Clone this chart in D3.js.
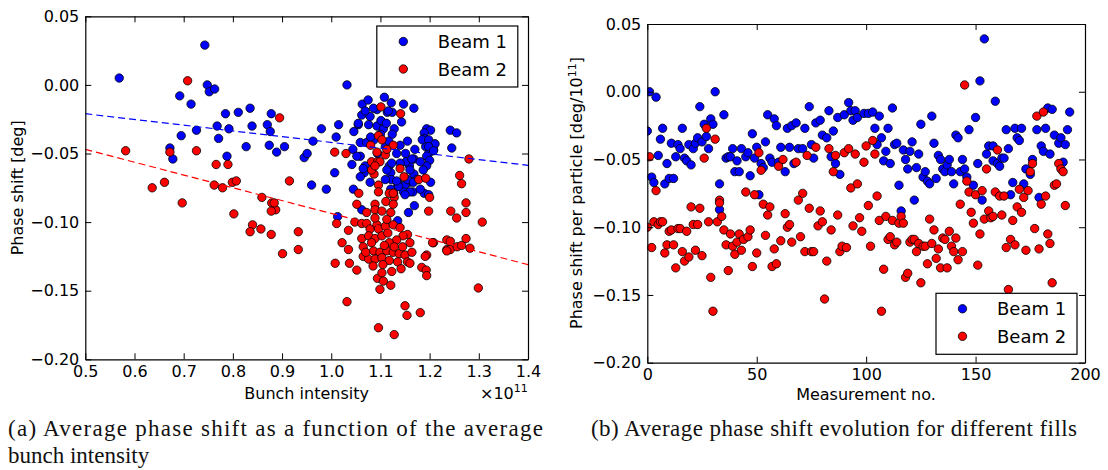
<!DOCTYPE html>
<html>
<head>
<meta charset="utf-8">
<script src="https://cdnjs.cloudflare.com/ajax/libs/d3/7.8.5/d3.min.js"></script>
<style>
body { margin: 0; background: #fff; }
svg text { font-family: "DejaVu Sans", sans-serif; fill: #000; }
.tick text { font-size: 16px; }
.axis-label { font-size: 16px; }
.legend-text { font-size: 18px; }
.caption { font-family: "Liberation Serif", serif; font-size: 23px; fill: #111; }
</style>
</head>
<body>
<svg id="chart" width="1108" height="470"></svg>
<script>

// ---- data ----

var yTicks = [-0.20, -0.15, -0.10, -0.05, 0.00, 0.05];
var intensityTicks = [0.5, 0.6, 0.7, 0.8, 0.9, 1.0, 1.1, 1.2, 1.3, 1.4];
var measurementTicks = [0, 50, 100, 150, 200];
var seriesNames = ["Beam 1", "Beam 2"];

// (a) bunch intensity [1e11], phase shift [deg]
var intensityBeam1 = [
    [0.569,0.005],[0.743,0.029],[0.748,0.000],[0.752,-0.005],[0.763,-0.003],[0.692,-0.008],[0.715,-0.014],
    [0.695,-0.037],[0.726,-0.033],[0.672,-0.046],[0.678,-0.054],[0.768,-0.030],[0.771,-0.039],[0.785,-0.021],
    [0.792,-0.032],[0.811,-0.020],[0.788,-0.052],[0.827,-0.045],[0.835,-0.017],[0.839,-0.030],[0.878,-0.021],
    [0.870,-0.029],[0.876,-0.034],[0.874,-0.044],[0.889,-0.049],[0.905,-0.045],[0.945,-0.053],[0.951,-0.050],
    [0.963,-0.041],[0.980,-0.032],[1.010,-0.038],[1.015,-0.029],[1.007,-0.064],[0.960,-0.073],[0.990,-0.076],
    [1.032,0.000],
    [1.063,-0.014],[1.075,-0.011],[1.108,-0.009],[1.122,-0.013],[1.147,-0.014],[1.168,-0.017],[1.062,-0.022],
    [1.079,-0.023],[1.093,-0.018],[1.114,-0.020],[1.124,-0.020],[1.143,-0.027],[1.046,-0.034],[1.055,-0.029],
    [1.076,-0.029],[1.093,-0.030],[1.106,-0.032],[1.128,-0.032],[1.124,-0.036],[1.069,-0.019],[1.086,-0.017],
    [1.116,-0.019],[1.055,-0.028],[1.101,-0.026],[1.112,-0.028],
    [1.194,-0.032],[1.202,-0.033],[1.189,-0.035],[1.189,-0.039],[1.192,-0.045],[1.210,-0.043],[1.208,-0.047],
    [1.198,-0.050],[1.242,-0.033],[1.255,-0.035],[1.245,-0.046],[1.185,-0.040],[1.198,-0.040],[1.211,-0.043],
    [1.198,-0.045],[1.208,-0.048],
    [1.151,-0.050],[1.168,-0.054],[1.194,-0.052],[1.200,-0.055],[1.194,-0.059],[1.187,-0.062],[1.159,-0.059],
    [1.168,-0.065],[1.174,-0.069],[1.159,-0.071],[1.150,-0.073],[1.135,-0.074],[1.135,-0.071],[1.147,-0.078],
    [1.166,-0.078],[1.189,-0.079],[1.202,-0.071],[1.118,-0.059],[1.121,-0.064],[1.122,-0.069],[1.121,-0.076],
    [1.079,-0.071],[1.067,-0.064],[1.042,-0.058],[1.059,-0.052],[1.044,-0.047],[1.059,-0.042],[1.072,-0.042],
    [1.087,-0.040],[1.110,-0.045],[1.133,-0.050],[1.094,-0.050],[1.069,-0.059],[1.045,-0.076],[1.052,-0.052],
    [1.065,-0.061],[1.059,-0.067],[1.110,-0.069],[1.137,-0.074],[1.155,-0.069],[1.160,-0.062],[1.181,-0.056],
    [1.152,-0.056],[1.140,-0.057],[1.164,-0.054],[1.123,-0.057],[1.113,-0.062],[1.133,-0.070],[1.160,-0.078],
    [1.198,-0.080],[1.181,-0.076],[1.167,-0.071],[1.100,-0.036],[1.080,-0.038],[1.117,-0.041],[1.140,-0.044],
    [1.155,-0.041],[1.170,-0.047],
    [1.169,-0.088],[1.157,-0.093],[1.135,-0.099],[1.013,-0.096],[1.062,-0.091],[1.127,-0.079],[1.150,-0.080]
];
var intensityBeam2 = [
    [0.708,0.003],[0.582,-0.048],[0.672,-0.049],[0.726,-0.048],[0.766,-0.058],[0.790,-0.058],[0.636,-0.075],
    [0.661,-0.071],[0.762,-0.073],[0.779,-0.075],[0.799,-0.071],[0.807,-0.070],[0.859,-0.082],[0.895,-0.024],
    [1.101,-0.016],[1.141,-0.021],[1.007,-0.049],[1.030,-0.050],[0.915,-0.070],[1.056,-0.079],[1.280,-0.054],
    [1.261,-0.066],[1.265,-0.072],
    [1.096,-0.037],[1.103,-0.040],[1.126,-0.044],[1.080,-0.044],[1.093,-0.049],[1.110,-0.051],[1.082,-0.056],
    [1.094,-0.056],[1.140,-0.061],[1.087,-0.065],[1.082,-0.062],[1.148,-0.067],[1.178,-0.069],[1.192,-0.068],
    [1.096,-0.073],[1.096,-0.078],[1.128,-0.082],[1.200,-0.082],[1.113,-0.047],[1.099,-0.056],[1.089,-0.059],
    [1.111,-0.085],[1.089,-0.087],[1.052,-0.087],
    [1.118,-0.079],[1.126,-0.079],[1.126,-0.087],[1.072,-0.093],[1.089,-0.091],[1.103,-0.092],[1.121,-0.093],
    [1.198,-0.092],[1.243,-0.092],[1.255,-0.097],[1.011,-0.101],[1.048,-0.100],[1.062,-0.101],[1.035,-0.106],
    [1.072,-0.101],[1.079,-0.105],[1.093,-0.102],[1.096,-0.105],[1.110,-0.103],[1.113,-0.098],[1.089,-0.097],
    [1.126,-0.102],[1.140,-0.104],[1.155,-0.109],[1.146,-0.110],[1.133,-0.113],[1.062,-0.112],[1.076,-0.110],
    [1.089,-0.112],[1.103,-0.110],[1.118,-0.115],[1.160,-0.115],[1.208,-0.115],[1.235,-0.113],[1.242,-0.114],
    [1.235,-0.120],[1.242,-0.120],[1.256,-0.118],[1.022,-0.115],[1.035,-0.120],[1.065,-0.118],[1.086,-0.121],
    [1.099,-0.122],[1.113,-0.121],[1.126,-0.122],[1.138,-0.123],[1.150,-0.124],[1.164,-0.122],
    [1.065,-0.125],[1.076,-0.127],[1.089,-0.127],[1.103,-0.126],[1.118,-0.128],[1.135,-0.129],[1.155,-0.129],
    [1.194,-0.124],[1.082,-0.115],[1.108,-0.117],[1.128,-0.118],[1.070,-0.122],[1.145,-0.118],[1.115,-0.108],
    [1.085,-0.132],[1.105,-0.131],
    [1.008,-0.130],[1.037,-0.130],[1.052,-0.135],[1.123,-0.136],[1.142,-0.134],[1.160,-0.130],[1.184,-0.133],
    [1.193,-0.135],[1.194,-0.139],[1.094,-0.141],[1.103,-0.137],[1.106,-0.143],[1.099,-0.149],[1.121,-0.146],
    [1.032,-0.158],[1.150,-0.161],[1.154,-0.168],[1.181,-0.166],[1.096,-0.177],[1.128,-0.182],
    [0.879,-0.086],[0.887,-0.091],[0.878,-0.109],[0.901,-0.123],[0.933,-0.107],[0.933,-0.120],[1.274,-0.086],
    [1.274,-0.093],[1.307,-0.100],[1.206,-0.115],[1.235,-0.121],[1.265,-0.117],[1.274,-0.112],[1.282,-0.119],
    [1.191,-0.125],[1.299,-0.148],
    [0.697,-0.086],[0.802,-0.094],[0.884,-0.086],[0.878,-0.092],[0.840,-0.102],[0.835,-0.107],[0.857,-0.105]
];

// dashed linear fits in (a): end points at intensity 0.5 and 1.4
var fitIntensity = [0.5, 1.4];
var fitBeam1 = [-0.021, -0.0586];
var fitBeam2 = [-0.047, -0.131];

// (b) measurement no., phase shift per particle [deg/1e11]
var measurementBeam1 = [
    [1,0.000],[4,-0.004],[0,-0.029],[2,-0.063],[3,-0.067],[5,-0.047],[6,-0.035],[7,-0.027],[9,-0.053],[8,-0.068],
    [10,-0.064],[12,-0.064],[11,-0.038],[13,-0.048],[14,-0.039],[15,-0.042],[16,-0.027],[17,-0.049],[18,-0.051],
    [20,-0.054],[19,-0.039],[21,-0.042],[22,-0.038],[23,-0.034],[24,-0.011],[25,-0.037],[26,-0.024],[27,-0.033],
    [28,-0.042],[29,-0.020],[30,-0.024],[31,0.000],[33,-0.068],[35,-0.017],[36,-0.049],[37,-0.048],[38,-0.048],
    [39,-0.042],[40,-0.059],[41,-0.051],[42,-0.059],[43,-0.042],[45,-0.048],[46,-0.045],[47,-0.062],[48,-0.031],
    [49,-0.049],[50,-0.041],[51,-0.076],[52,-0.053],[53,-0.056],[54,-0.037],[55,-0.017],[56,-0.049],[57,-0.052],
    [58,-0.020],[59,-0.025],[60,-0.052],[61,-0.041],[63,-0.059],[64,-0.027],[65,-0.041],[66,-0.025],[67,-0.053],
    [68,-0.023],[69,-0.042],[71,-0.042],[72,-0.027],[74,-0.011],[75,-0.039],[76,-0.049],[77,-0.023],[79,-0.021],
    [80,-0.032],[82,-0.034],[83,-0.014],[84,-0.048],[85,-0.029],[86,-0.053],[87,-0.019],[88,-0.061],[90,-0.017],
    [92,-0.008],[93,-0.014],[94,-0.021],[95,-0.014],[96,-0.019],[99,-0.016],[101,-0.016],[103,-0.015],[106,-0.018],
    [104,-0.027],[107,-0.034],[105,-0.039],[110,-0.027],[112,-0.012],[109,-0.044],[108,-0.051],[111,-0.053],
    [113,-0.039],[114,-0.038],[115,-0.069],[117,-0.043],[118,-0.050],[119,-0.057],[120,-0.044],[121,-0.037],
    [123,-0.056],[124,-0.046],[125,-0.024],[126,-0.063],[127,-0.059],[128,-0.066],[129,-0.068],[130,-0.018],
    [131,-0.038],[132,-0.064],[133,-0.047],[134,-0.050],[135,-0.057],[136,-0.059],[137,-0.054],[138,-0.050],
    [139,-0.059],[140,-0.068],[141,-0.032],[142,-0.034],[143,-0.059],[144,-0.050],[145,-0.057],[146,-0.063],
    [147,-0.028],[149,-0.069],[150,-0.019],[151,-0.053],[152,0.008],[154,0.039],[155,-0.046],[156,-0.040],
    [158,-0.040],[158,-0.051],[159,-0.007],[160,-0.053],[161,-0.055],[162,-0.049],[163,-0.049],[164,-0.028],
    [165,-0.042],[167,-0.067],[168,-0.027],[169,-0.034],[170,-0.036],[171,-0.027],[172,-0.068],[173,-0.057],
    [175,-0.061],[176,-0.050],[178,-0.028],[180,-0.040],[181,-0.044],[182,-0.027],[183,-0.012],[185,-0.013],
    [184,-0.046],[186,-0.032],[188,-0.038],[189,-0.034],[190,-0.052],[191,-0.039],[192,-0.028],[193,-0.015],
    [179,-0.078],[122,-0.080],[153,-0.080],[166,-0.076],[33,-0.087],[116,-0.088]
];
var measurementBeam2 = [
    [1,-0.048],[4,-0.073],[27,-0.027],[26,-0.049],[31,-0.035],[51,-0.045],[52,-0.058],[45,-0.074],[49,-0.076],
    [60,-0.055],[62,-0.050],[68,-0.052],[73,-0.047],[77,-0.041],[71,-0.075],[83,-0.042],[86,-0.047],[85,-0.059],
    [33,-0.080],[69,-0.080],[90,-0.045],[92,-0.042],[95,-0.046],[93,-0.071],[96,-0.068],[99,-0.052],[100,-0.040],
    [103,-0.036],[104,-0.046],[105,-0.077],[145,0.005],[146,-0.066],[147,-0.074],[150,-0.076],[153,-0.073],
    [155,-0.057],[160,-0.043],[159,-0.074],[161,-0.077],[163,-0.077],[170,-0.072],[174,-0.073],[172,-0.078],
    [182,-0.077],[175,-0.059],[176,-0.053],[178,-0.018],[181,-0.015],[186,-0.069],[187,-0.068],[188,-0.053],
    [189,-0.057],[190,-0.059],
    [0,-0.100],[2,-0.115],[3,-0.096],[5,-0.098],[6,-0.096],[7,-0.096],[8,-0.119],[9,-0.113],[10,-0.103],
    [11,-0.102],[12,-0.113],[13,-0.130],[14,-0.101],[15,-0.101],[16,-0.118],[17,-0.125],[18,-0.103],[19,-0.122],
    [20,-0.085],[21,-0.098],[22,-0.117],[23,-0.098],[24,-0.086],[25,-0.121],[28,-0.096],[29,-0.137],[30,-0.162],
    [32,-0.096],[33,-0.082],[34,-0.092],[35,-0.102],[36,-0.113],[37,-0.132],[38,-0.105],[39,-0.114],[40,-0.120],
    [41,-0.111],[42,-0.105],[43,-0.117],[44,-0.109],[46,-0.107],[47,-0.102],[48,-0.129],[50,-0.119],[53,-0.083],
    [54,-0.106],[55,-0.091],[56,-0.085],[57,-0.129],[58,-0.116],[59,-0.127],[61,-0.110],[63,-0.090],[64,-0.100],
    [65,-0.098],[66,-0.111],[70,-0.107],[72,-0.118],[74,-0.086],[75,-0.118],[76,-0.118],[78,-0.099],[79,-0.088],
    [80,-0.096],[81,-0.153],[82,-0.125],[84,-0.102],[87,-0.091],[88,-0.118],
    [89,-0.114],[91,-0.115],[94,-0.099],[97,-0.093],[98,-0.103],[101,-0.084],[102,-0.114],[106,-0.095],
    [107,-0.162],[108,-0.131],[109,-0.092],[110,-0.109],[111,-0.107],[112,-0.095],[113,-0.113],[114,-0.111],
    [115,-0.097],[116,-0.092],[117,-0.097],[118,-0.137],[119,-0.134],[120,-0.111],[121,-0.109],[122,-0.109],
    [123,-0.118],[124,-0.112],[125,-0.141],[126,-0.114],[127,-0.114],[128,-0.127],[129,-0.094],[130,-0.112],
    [131,-0.102],[132,-0.123],[133,-0.116],[134,-0.130],[135,-0.108],[136,-0.109],[137,-0.130],[138,-0.103],
    [139,-0.114],[140,-0.118],[141,-0.108],[142,-0.124],[143,-0.083],[144,-0.118],[148,-0.089],[149,-0.097],
    [151,-0.128],[152,-0.105],[154,-0.094],[156,-0.088],[157,-0.093],[158,-0.092],[162,-0.091],[164,-0.115],
    [165,-0.146],[166,-0.109],[167,-0.095],[168,-0.113],[169,-0.085],[171,-0.089],[173,-0.117],[177,-0.101],
    [179,-0.116],[180,-0.083],[183,-0.105],[184,-0.112],[185,-0.141],[191,-0.084]
];

var colors = ["#0000ff", "#ff0000"];


/*
 * ScatterVis - one panel of the figure
 * @param _svg      -- the svg selection to draw into
 * @param _config   -- placement, x domain/ticks, series
 */

ScatterVis = function(_svg, _config){
    this.svg = _svg;
    this.config = _config;
    this.initVis();
}

ScatterVis.prototype.initVis = function(){
    var vis = this;
    var c = vis.config;

    vis.width = c.width;
    vis.height = c.height;

    vis.g = vis.svg.append("g")
        .attr("transform", "translate(" + c.left + "," + c.top + ")");

    vis.x = d3.scaleLinear().domain(c.xDomain).range([0, vis.width]);
    vis.y = d3.scaleLinear().domain([-0.20, 0.05]).range([vis.height, 0]);

    // clip marks to the axes box
    vis.g.append("clipPath").attr("id", c.id + "-clip")
        .append("rect").attr("width", vis.width).attr("height", vis.height);

    vis.plot = vis.g.append("g").attr("clip-path", "url(#" + c.id + "-clip)");

    // ticks point inwards on all four sides
    vis.g.append("g")
        .attr("transform", "translate(0," + vis.height + ")")
        .call(d3.axisBottom(vis.x).tickValues(c.xTicks).tickFormat(c.xFormat)
            .tickSize(-6).tickSizeOuter(0).tickPadding(6));
    vis.g.append("g")
        .call(d3.axisTop(vis.x).tickValues(c.xTicks).tickFormat("")
            .tickSize(-6).tickSizeOuter(0));
    vis.g.append("g")
        .call(d3.axisLeft(vis.y).tickValues(yTicks).tickFormat(d3.format(".2f"))
            .tickSize(-6).tickSizeOuter(0).tickPadding(6));
    vis.g.append("g")
        .attr("transform", "translate(" + vis.width + ",0)")
        .call(d3.axisRight(vis.y).tickValues(yTicks).tickFormat("")
            .tickSize(-6).tickSizeOuter(0));

    vis.g.selectAll(".domain").attr("stroke", "#000").attr("stroke-width", 1.2);
    vis.g.selectAll(".tick line").attr("stroke", "#000");

    vis.updateVis();
}

ScatterVis.prototype.updateVis = function(){
    var vis = this;
    var c = vis.config;

    // Beam 1 first, Beam 2 on top
    c.series.forEach(function(s, i){
        vis.plot.append("g").selectAll("circle")
            .data(s)
            .enter().append("circle")
            .attr("cx", function(d){ return vis.x(d[0]); })
            .attr("cy", function(d){ return vis.y(d[1]); })
            .attr("r", 4.2)
            .attr("fill", colors[i])
            .attr("stroke", "#000")
            .attr("stroke-width", 0.8);
    });

    // dashed fits
    if (c.fits) {
        var line = d3.line()
            .x(function(d){ return vis.x(d[0]); })
            .y(function(d){ return vis.y(d[1]); });
        c.fits.forEach(function(f, i){
            vis.plot.append("path")
                .attr("d", line(d3.zip(fitIntensity, f)))
                .attr("fill", "none")
                .attr("stroke", colors[i])
                .attr("stroke-width", 1.2)
                .attr("stroke-dasharray", "7,4");
        });
    }

    // legend
    var lg = vis.g.append("g")
        .attr("transform", "translate(" + c.legend[0] + "," + c.legend[1] + ")");
    lg.append("rect")
        .attr("width", 141).attr("height", 61)
        .attr("fill", "#fff").attr("stroke", "#000").attr("stroke-width", 1.2);
    seriesNames.forEach(function(name, i){
        lg.append("circle")
            .attr("cx", 26.5).attr("cy", 15.5 + i * 27.5).attr("r", 4.2)
            .attr("fill", colors[i]).attr("stroke", "#000").attr("stroke-width", 0.8);
        lg.append("text")
            .attr("class", "legend-text")
            .attr("x", 61).attr("y", 22 + i * 27.5)
            .text(name);
    });
}


var svg = d3.select("#chart");

var panelA = new ScatterVis(svg, {
    id: "a", left: 85.3, top: 16.3, width: 442.7, height: 343,
    xDomain: [0.5, 1.4], xTicks: intensityTicks, xFormat: d3.format(".1f"),
    series: [intensityBeam1, intensityBeam2],
    fits: [fitBeam1, fitBeam2],
    legend: [291.5, 9.7]
});

var panelB = new ScatterVis(svg, {
    id: "b", left: 647.3, top: 24, width: 437.7, height: 338.7,
    xDomain: [0, 200], xTicks: measurementTicks, xFormat: d3.format("d"),
    series: [measurementBeam1, measurementBeam2],
    legend: [288.7, 269.3]
});

// axis labels
svg.append("text").attr("class", "axis-label")
    .attr("transform", "translate(23,187.8) rotate(-90)")
    .attr("text-anchor", "middle")
    .text("Phase shift [deg]");

svg.append("text").attr("class", "axis-label")
    .attr("x", 306.6).attr("y", 399)
    .attr("text-anchor", "middle")
    .text("Bunch intensity");

var mult = svg.append("text").attr("class", "axis-label")
    .attr("x", 480).attr("y", 399);
mult.append("tspan").text("\u00d710");
mult.append("tspan").attr("dy", -7).style("font-size", "11px").text("11");

var yb = svg.append("text").attr("class", "axis-label")
    .attr("transform", "translate(582,193) rotate(-90)")
    .attr("text-anchor", "middle");
yb.append("tspan").text("Phase shift per particle [deg/10");
yb.append("tspan").attr("dy", -6).style("font-size", "11px").text("11");
yb.append("tspan").attr("dy", 6).text("]");

svg.append("text").attr("class", "axis-label")
    .attr("x", 866).attr("y", 400)
    .attr("text-anchor", "middle")
    .text("Measurement no.");

// captions
svg.append("text").attr("class", "caption")
    .attr("x", 8).attr("y", 436)
    .attr("textLength", 535).attr("lengthAdjust", "spacing")
    .text("(a) Average phase shift as a function of the average");
svg.append("text").attr("class", "caption")
    .attr("x", 8).attr("y", 463)
    .text("bunch intensity");
svg.append("text").attr("class", "caption")
    .attr("x", 591).attr("y", 436)
    .attr("textLength", 486).attr("lengthAdjust", "spacing")
    .text("(b) Average phase shift evolution for different fills");

</script>
</body>
</html>
